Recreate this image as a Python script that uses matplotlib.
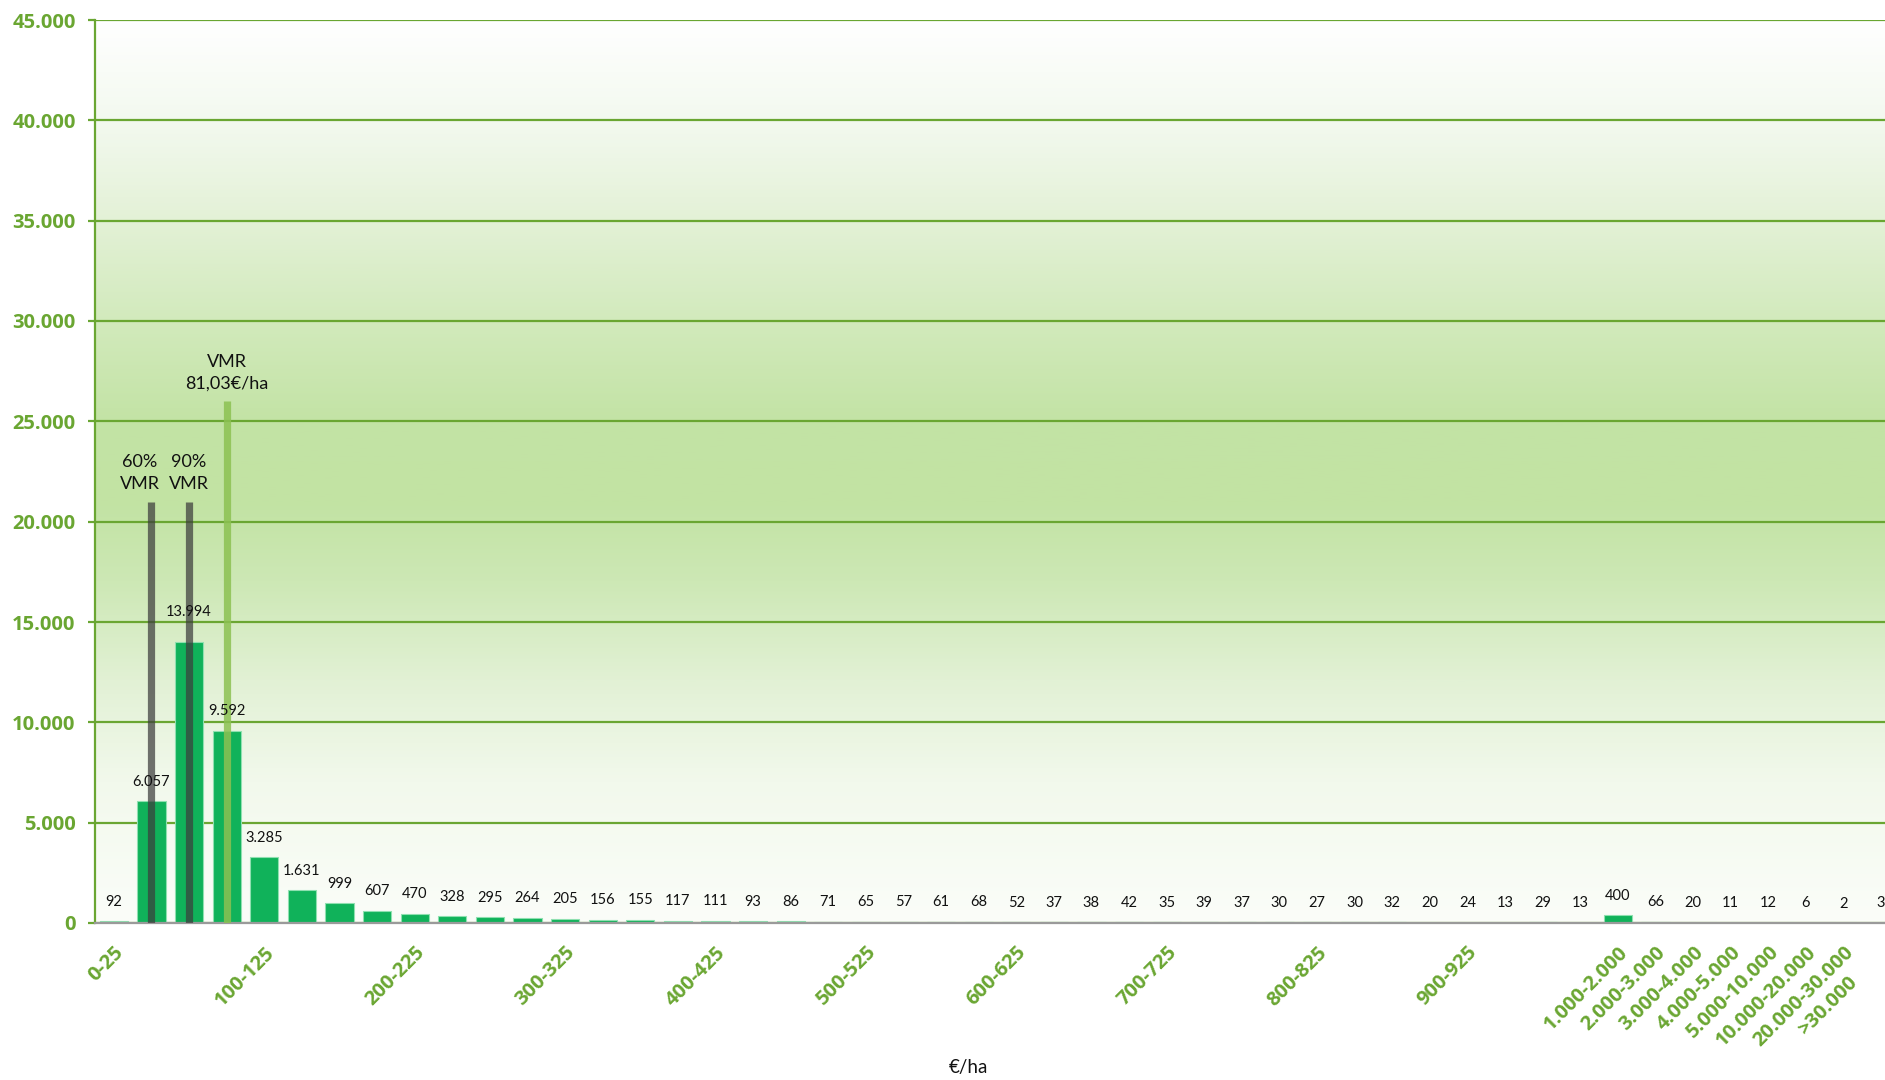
import numpy as np
import matplotlib
matplotlib.use("Agg")
import matplotlib.pyplot as plt
from matplotlib.colors import LinearSegmentedColormap
from matplotlib.ticker import FuncFormatter, FixedLocator
import matplotlib.transforms as mtransforms

plt.rcParams['font.family'] = ['Lato', 'DejaVu Sans']
BOLD_FAMILY = ['Open Sans', 'DejaVu Sans']

categories = [
    "0-25", "25-50", "50-75", "75-100", "100-125", "125-150", "150-175", "175-200",
    "200-225", "225-250", "250-275", "275-300", "300-325", "325-350", "350-375", "375-400",
    "400-425", "425-450", "450-475", "475-500", "500-525", "525-550", "550-575", "575-600",
    "600-625", "625-650", "650-675", "675-700", "700-725", "725-750", "750-775", "775-800",
    "800-825", "825-850", "850-875", "875-900", "900-925", "925-950", "950-975", "975-1.000",
    "1.000-2.000", "2.000-3.000", "3.000-4.000", "4.000-5.000", "5.000-10.000",
    "10.000-20.000", "20.000-30.000", ">30.000",
]
counts = [
    92, 6057, 13994, 9592, 3285, 1631, 999, 607,
    470, 328, 295, 264, 205, 156, 155, 117,
    111, 93, 86, 71, 65, 57, 61, 68,
    52, 37, 38, 42, 35, 39, 37, 30,
    27, 30, 32, 20, 24, 13, 29, 13,
    400, 66, 20, 11, 12, 6, 2, 3,
]
# reference lines: (category index, height, label)
ref_pos = [1, 2, 3]
ref_height = [21000, 21000, 26000]
ref_labels = ["60%\nVMR", "90%\nVMR", "VMR\n81,03€/ha"]

GREEN = "#6AA632"
BAR = "#10B25A"

fig = plt.figure(figsize=(18.85, 10.8), dpi=100)
ax = fig.add_axes([95 / 1885, 157 / 1080, 1790 / 1885, 903 / 1080])

n = len(categories)
x = np.arange(n)
xmin, xmax = -0.5, -0.5 + 1790 / 37.6
ymax = 45000

# gradient background
stops = [(0.0, "#fbfdf9"), (7000 / ymax, "#f2f9ec"), (12000 / ymax, "#e2f1d5"),
         (17000 / ymax, "#cde8b5"), (21000 / ymax, "#c2e3a3"), (25000 / ymax, "#c3e3a5"),
         (30000 / ymax, "#d2eabc"), (35000 / ymax, "#e3f1d6"), (40000 / ymax, "#f3f9ef"),
         (1.0, "#ffffff")]
cmap = LinearSegmentedColormap.from_list("bg", stops)
grad = np.linspace(0, 1, 512).reshape(-1, 1)
ax.imshow(grad, extent=[xmin, xmax, 0, ymax], origin="lower", aspect="auto",
          cmap=cmap, zorder=0, interpolation="bilinear")

ax.set_xlim(xmin, xmax)
ax.set_ylim(0, ymax)

# grid
ax.yaxis.set_major_locator(FixedLocator(np.arange(0, ymax + 1, 5000)))
ax.grid(axis="y", color=GREEN, linewidth=1.6, zorder=1)
ax.set_axisbelow(True)

ax.bar(x, counts, width=0.75, color=BAR, edgecolor="#8fe0b0", linewidth=0.8, zorder=2)

for i, (xi, v) in enumerate(zip(x, counts)):
    off = 22 if i == 2 else 14
    ax.annotate(f"{v:,}".replace(",", "."), (xi, v), xytext=(0, off),
                textcoords="offset points", ha="center", va="center",
                fontsize=10.5, color="#111111", zorder=5)

# VMR reference lines
ref_colors = ["#3c3c3c", "#3c3c3c", "#8cc152"]
ref_alpha = [0.72, 0.72, 0.85]
for p, h, c, a in zip(ref_pos, ref_height, ref_colors, ref_alpha):
    ax.plot([p, p], [0, h], color=c, alpha=a, linewidth=5.2, solid_capstyle="butt", zorder=4)

label_dx = [-0.3, 0.0, 0.0]
for p, h, t, dx in zip(ref_pos, ref_height, ref_labels, label_dx):
    ax.text(p + dx, h + 500, t, ha="center", va="bottom",
            fontsize=13, color="#111111", linespacing=1.4)

# y axis
ax.yaxis.set_major_formatter(FuncFormatter(lambda v, p: f"{int(v):,}".replace(",", ".")))
ax.tick_params(axis="y", colors=GREEN, length=5, width=1.6, pad=9)
for lab in ax.get_yticklabels():
    lab.set_fontweight("bold")
    lab.set_family(BOLD_FAMILY)
    lab.set_fontsize(14.5)
    lab.set_color(GREEN)

# x axis
shown = [lab if (i < 40 and i % 4 == 0) or i >= 40 else "" for i, lab in enumerate(categories)]
ax.set_xticks(x)
ax.set_xticklabels(shown, rotation=45, ha="right", va="top", rotation_mode="anchor",
                   fontsize=14.5, fontweight="bold", color=GREEN, family=BOLD_FAMILY)
ax.tick_params(axis="x", length=0, pad=14)
last = ax.get_xticklabels()[-1]
last.set_transform(last.get_transform() +
                   mtransforms.ScaledTranslation(-34 / 100, -30 / 100, fig.dpi_scale_trans))

for s in ["top", "right"]:
    ax.spines[s].set_visible(False)
ax.spines["left"].set_color(GREEN)
ax.spines["left"].set_linewidth(1.6)
ax.spines["bottom"].set_color("#9a9a9a")
ax.spines["bottom"].set_linewidth(1.6)
ax.spines["bottom"].set_zorder(3)

fig.text(968 / 1885, 1 - 1068 / 1080, "€/ha", ha="center", va="center", fontsize=13.5,
         color="#111111")

fig.savefig("out.png", dpi=100)
